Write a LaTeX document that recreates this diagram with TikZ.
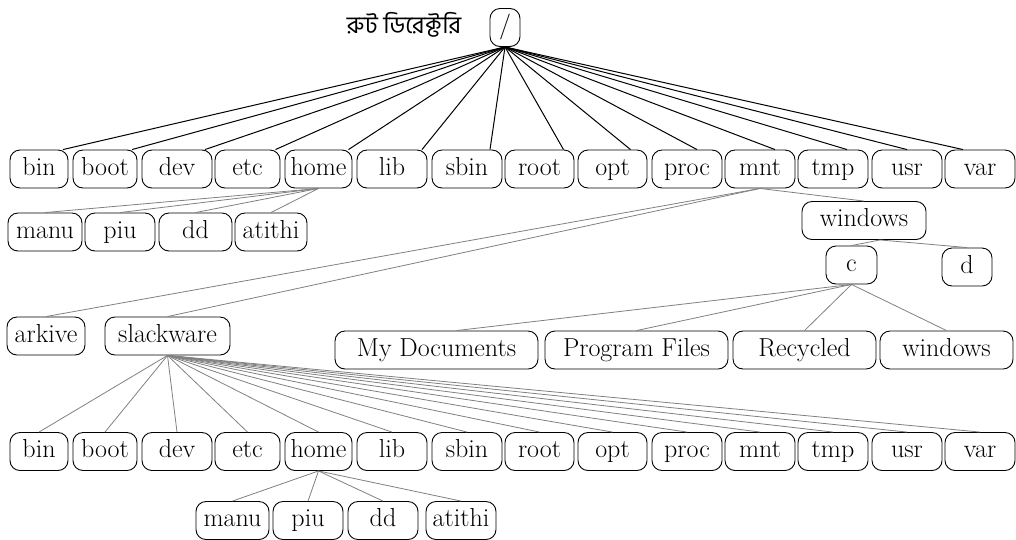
\documentclass[tikz,border=0pt]{standalone}
\usepackage{fontspec}
\newfontfamily\bengalifont[Script=Bengali]{Hind Siliguri}
\usepackage{tikz}

\begin{document}
\begin{tikzpicture}[x=1pt, y=-1pt,
  dirbox/.style={draw, line width=0.9pt, rounded corners=10pt, minimum height=38pt, minimum width=#1,
    inner sep=2pt, text height=18pt, text depth=6pt, font=\fontsize{26}{26}\selectfont},
  dirbox/.default=70pt,
  topline/.style={black, line width=1pt},
  subline/.style={gray, line width=0.8pt}]
\useasboundingbox (0,0) rectangle (1016,539);

% the root directory
\node[dirbox=30pt, inner sep=0pt] (slash) at (505,27.5) {/};
\node[font=\bengalifont\fontsize{24}{24}\selectfont] (slashlabel) at (404,25) {রুট ডিরেক্টরি};

% first level under /
\node[dirbox=58pt] (bin) at (39,169) {bin};
\node[dirbox=64pt] (boot) at (105,169) {boot};
\node[dirbox] (dev) at (177,169) {dev};
\node[dirbox=65pt] (etc) at (247.5,169) {etc};
\node[dirbox=67pt] (home) at (318.5,169) {home};
\node[dirbox] (lib) at (392,169) {lib};
\node[dirbox] (sbin) at (467,169) {sbin};
\node[dirbox=69pt] (root) at (539.5,169) {root};
\node[dirbox=69pt] (opt) at (612.5,169) {opt};
\node[dirbox] (proc) at (687,169) {proc};
\node[dirbox] (mnt) at (760,169) {mnt};
\node[dirbox] (tmp) at (833,169) {tmp};
\node[dirbox] (usr) at (907,169) {usr};
\node[dirbox] (var) at (980,169) {var};

% users in /home
\node[dirbox=74pt] (manu) at (45,232) {manu};
\node[dirbox] (piu) at (120,232) {piu};
\node[dirbox=73pt] (dd) at (195.5,232) {dd};
\node[dirbox=72pt] (atithi) at (271,232) {atithi};

% mount points
\node[dirbox=124pt] (windows) at (864,220.5) {windows};
\node[dirbox=51pt] (c) at (851.5,265) {c};
\node[dirbox=50pt] (d) at (967,267) {d};
\node[dirbox=78pt] (arkive) at (46,336) {arkive};
\node[dirbox=125pt] (slackware) at (167.5,336) {slackware};

% contents of c
\node[dirbox=203pt] (mydocs) at (436.5,350) {My Documents};
\node[dirbox=183pt] (progfiles) at (636.5,350) {Program Files};
\node[dirbox=143pt] (recycled) at (804.5,350) {Recycled};
\node[dirbox=133pt] (cwindows) at (946.5,350) {windows};

% second tree under slackware
\node[dirbox=58pt] (bin2) at (39,451.5) {bin};
\node[dirbox=64pt] (boot2) at (105,451.5) {boot};
\node[dirbox] (dev2) at (177,451.5) {dev};
\node[dirbox=65pt] (etc2) at (247.5,451.5) {etc};
\node[dirbox=67pt] (home2) at (318.5,451.5) {home};
\node[dirbox] (lib2) at (392,451.5) {lib};
\node[dirbox] (sbin2) at (467,451.5) {sbin};
\node[dirbox=69pt] (root2) at (539.5,451.5) {root};
\node[dirbox=69pt] (opt2) at (612.5,451.5) {opt};
\node[dirbox] (proc2) at (687,451.5) {proc};
\node[dirbox] (mnt2) at (760,451.5) {mnt};
\node[dirbox] (tmp2) at (833,451.5) {tmp};
\node[dirbox] (usr2) at (907,451.5) {usr};
\node[dirbox] (var2) at (980,451.5) {var};

\node[dirbox=73pt] (manu2) at (232.5,520.5) {manu};
\node[dirbox] (piu2) at (308,520.5) {piu};
\node[dirbox] (dd2) at (383,520.5) {dd};
\node[dirbox] (atithi2) at (461,520.5) {atithi};

% lines from /
\draw[topline] (slash.south)--([xshift=24pt]bin.north);
\draw[topline] (slash.south)--([xshift=27pt]boot.north);
\draw[topline] (slash.south)--([xshift=28pt]dev.north);
\draw[topline] (slash.south)--([xshift=28pt]etc.north);
\draw[topline] (slash.south)--([xshift=30pt]home.north);
\draw[topline] (slash.south)--([xshift=30pt]lib.north);
\draw[topline] (slash.south)--([xshift=23pt]sbin.north);
\draw[topline] (slash.south)--([xshift=24pt]root.north);
\draw[topline] (slash.south)--([xshift=18pt]opt.north);
\draw[topline] (slash.south)--([xshift=10pt]proc.north);
\draw[topline] (slash.south)--([xshift=15pt]mnt.north);
\draw[topline] (slash.south)--([xshift=14pt]tmp.north);
\draw[topline] (slash.south)--(usr.north);
\draw[topline] (slash.south)--([xshift=-17pt]var.north);

\draw[subline] (home.south)--(manu.north);
\draw[subline] (home.south)--(piu.north);
\draw[subline] (home.south)--(dd.north);
\draw[subline] (home.south)--(atithi.north);

\draw[subline] (mnt.south)--(arkive.north);
\draw[subline] (mnt.south)--(slackware.north);
\draw[subline] (mnt.south)--(windows.north);
\draw[subline] ([xshift=16pt]windows.south)--(c.north);
\draw[subline] ([xshift=16pt]windows.south)--(d.north);

\draw[subline] (c.south)--([xshift=20pt]mydocs.north);
\draw[subline] (c.south)--(progfiles.north);
\draw[subline] (c.south)--(recycled.north);
\draw[subline] (c.south)--(cwindows.north);

% lines from slackware
\draw[subline] (slackware.south)--(bin2.north);
\draw[subline] (slackware.south)--(boot2.north);
\draw[subline] (slackware.south)--(dev2.north);
\draw[subline] (slackware.south)--(etc2.north);
\draw[subline] (slackware.south)--(home2.north);
\draw[subline] (slackware.south)--(lib2.north);
\draw[subline] (slackware.south)--(sbin2.north);
\draw[subline] (slackware.south)--(root2.north);
\draw[subline] (slackware.south)--(opt2.north);
\draw[subline] (slackware.south)--(proc2.north);
\draw[subline] (slackware.south)--(mnt2.north);
\draw[subline] (slackware.south)--(tmp2.north);
\draw[subline] (slackware.south)--(usr2.north);
\draw[subline] (slackware.south)--(var2.north);

\draw[subline] (home2.south)--(manu2.north);
\draw[subline] (home2.south)--(piu2.north);
\draw[subline] (home2.south)--(dd2.north);
\draw[subline] (home2.south)--(atithi2.north);
\end{tikzpicture}
\end{document}
